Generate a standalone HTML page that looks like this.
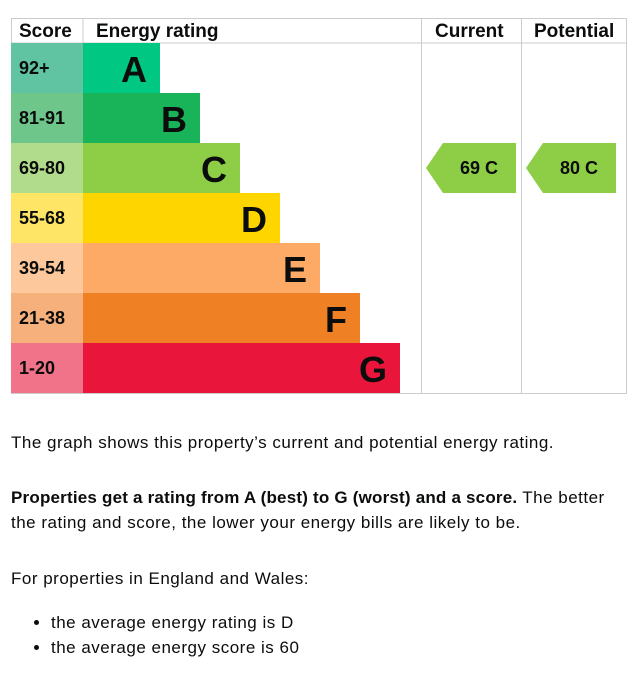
<!DOCTYPE html>
<html><head><meta charset="utf-8">
<style>
body{margin:0;width:638px;height:686px;background:#fff;font-family:"Liberation Sans",sans-serif;color:#0b0c0c;position:relative;overflow:hidden}
svg{position:absolute;left:0;top:0}
.t{position:absolute;left:11px;font-size:17px;letter-spacing:0.5px;line-height:25px;margin:0;width:615px}
.t b{letter-spacing:0.2px}
ul{position:absolute;left:11px;top:610px;margin:0;padding-left:40px;font-size:17px;letter-spacing:0.5px;line-height:25px}
</style></head><body>
<svg width="638" height="400" id="chart"></svg>
<p class="t" style="top:430px">The graph shows this property’s current and potential energy rating.</p>
<p class="t" style="top:485px"><b>Properties get a rating from A (best) to G (worst) and a score.</b> The better the rating and score, the lower your energy bills are likely to be.</p>
<p class="t" style="top:566px">For properties in England and Wales:</p>
<ul>
<li>the average energy rating is D</li>
<li>the average energy score is 60</li>
</ul>
<script>
const bands=["A","B","C","D","E","F","G"];
const ranges=["92+","81-91","69-80","55-68","39-54","21-38","1-20"];
const mins=[92,81,69,55,39,21,1];
const current=69;
const potential=80;
const barCol=["#00c781","#19b459","#8dce46","#ffd500","#fcaa65","#ef8023","#e9153b"];
const scoreCol=["#60c3a1","#6ec68b","#b1dc8c","#ffe566","#fdc89b","#f5b07b","#f07389"];
const svg=document.getElementById('chart');
const NS="http://www.w3.org/2000/svg";
function mk(t,a,txt){const e=document.createElementNS(NS,t);for(const k in a)e.setAttribute(k,a[k]);if(txt!=null)e.textContent=txt;svg.appendChild(e);return e;}
const top0=43,rowH=50,x0=11,sx=83,bx=83;
const y=i=>top0+i*rowH;
const barEnd=i=>160+i*40;
const bandOf=v=>mins.findIndex(m=>v>=m);
let g;
g=mk('line',{x1:11,y1:18.5,x2:626,y2:18.5,stroke:'#ccc'});
g=mk('line',{x1:11,y1:43,x2:626,y2:43,stroke:'#ccc'});
g=mk('line',{x1:11,y1:393.5,x2:626,y2:393.5,stroke:'#ccc'});
[11.5,83,421.5,521.5,626.5].forEach(x=>{const l=mk('line',{x1:x,y1:18,x2:x,y2:394,stroke:'#ccc'});});
const hd=[["Score",19],["Energy rating",96],["Current",435],["Potential",534]];
hd.forEach(h=>{const t=mk('text',{x:h[1],y:37,'font-size':19,'font-weight':'bold',fill:'#0b0c0c'},h[0]);});
bands.forEach((b,i)=>{
 let r=mk('rect',{x:x0,y:y(i),width:sx-x0,height:rowH,fill:scoreCol[i]});
 let t=mk('text',{x:19,y:y(i)+31,'font-size':18,'font-weight':'bold',fill:'#0b0c0c'},ranges[i]);
 r=mk('rect',{x:bx,y:y(i),width:barEnd(i)-bx,height:rowH,fill:barCol[i]});
 t=mk('text',{x:barEnd(i)-13,y:y(i)+39,'font-size':36,'font-weight':'bold','text-anchor':'end',fill:'#0b0c0c'},b);
});
function arrow(v,left,name){
 const i=bandOf(v),yy=y(i),R=left+90;
 const p=mk('polygon',{points:`${left},${yy+25} ${left+17},${yy} ${R},${yy} ${R},${yy+50} ${left+17},${yy+50}`,fill:barCol[i]});
 
 const t=mk('text',{x:left+53,y:yy+31,'font-size':18,'font-weight':'bold','text-anchor':'middle',fill:'#0b0c0c','xml:space':'preserve'},v+"  "+bands[i]);
 
}
arrow(current,426,'current');
arrow(potential,526,'potential');
</script>
</body></html>
